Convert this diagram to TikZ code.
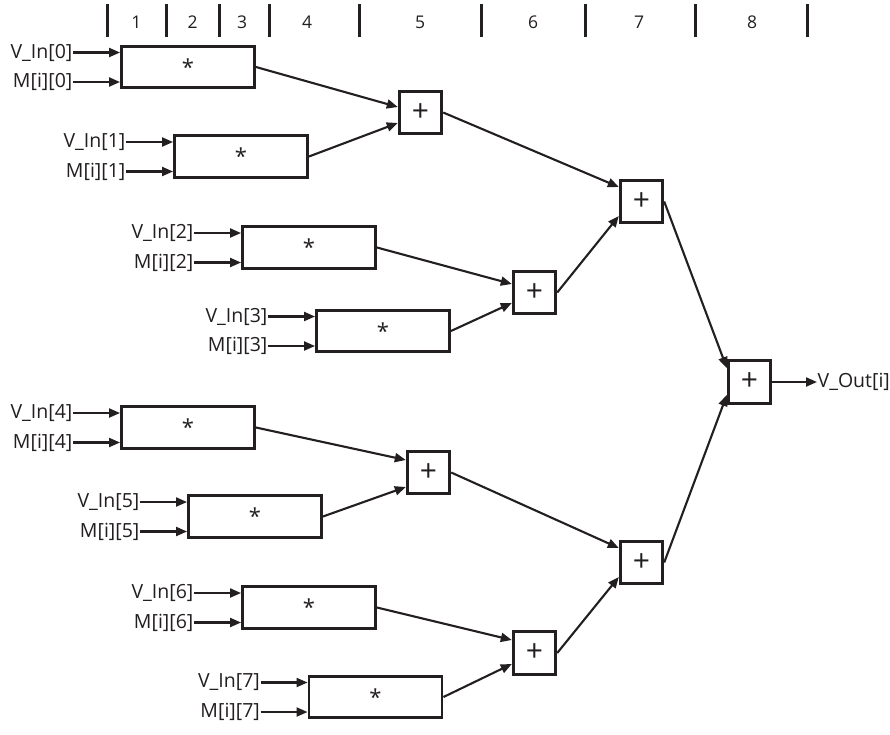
\documentclass[tikz,border=0pt]{standalone}
\usepackage{fontspec}
\setmainfont{Open Sans}
\usetikzlibrary{arrows.meta,calc}
\definecolor{ink}{HTML}{231F20}
\begin{document}
\begin{tikzpicture}[x=1pt,y=-1pt,
  mul/.style={draw=ink,line width=2.9pt,minimum width=133pt,minimum height=41.5pt,inner sep=0pt,
    font=\fontsize{22}{22}\selectfont,text=ink},
  add/.style={draw=ink,line width=2.9pt,minimum width=42.5pt,minimum height=42.5pt,inner sep=0pt,
    font=\fontsize{30}{30}\selectfont,text=ink},
  lbl/.style={inner sep=0.5pt,font=\fontsize{19.5}{20}\selectfont,text=ink},
  hdr/.style={inner sep=0pt,font=\fontsize{17.5}{18}\selectfont,text=ink},
  wire/.style={draw=ink,line width=2.1pt,-{Triangle[length=11pt,width=9pt]}},
  bar/.style={draw=ink,line width=3pt}]

\fill[white] (0,0) rectangle (890,734);
\useasboundingbox (0,0) rectangle (890,734);

% stage ruler
\foreach \x in {107,166,219,269,359,481,585,695,807}
  \draw[bar] (\x,4) -- (\x,37);
\node[hdr] (s1) at (136.5,22) {1};
\node[hdr] (s2) at (192.5,22) {2};
\node[hdr] (s3) at (242,22) {3};
\node[hdr] (s4) at (307,22) {4};
\node[hdr] (s5) at (420,22) {5};
\node[hdr] (s6) at (533,22) {6};
\node[hdr] (s7) at (639,22) {7};
\node[hdr] (s8) at (752,22) {8};

% multipliers
\newcommand{\mulsym}{\raisebox{-0.42em}{*}}
\node[mul] (m0) at (188,67)    {\mulsym};
\node[mul] (m1) at (241,156.5) {\mulsym};
\node[mul] (m2) at (309,247.5) {\mulsym};
\node[mul] (m3) at (383,331)   {\mulsym};
\node[mul] (m4) at (188,427.5) {\mulsym};
\node[mul] (m5) at (255,516.5) {\mulsym};
\node[mul] (m6) at (309,607.5) {\mulsym};
\node[mul] (m7) at (375.5,697) {\mulsym};

% adder tree
\node[add] (a01) at (420.5,112.5) {+};
\node[add] (a23) at (534.5,292.5) {+};
\node[add] (a45) at (428.5,472.5) {+};
\node[add] (a67) at (534.5,653)   {+};
\node[add] (b0)  at (641.5,201.5) {+};
\node[add] (b1)  at (641.5,562.5) {+};
\node[add] (c)   at (749.5,382)   {+};

% operand inputs
\foreach \k in {0,...,7} {
  \node[lbl,anchor=east] (v\k) at ([xshift=-47pt,yshift=14.5pt]m\k.west) {V\_In[\k]};
  \node[lbl,anchor=east] (w\k) at ([xshift=-47pt,yshift=-15pt]m\k.west) {M[i][\k]};
  \draw[wire] (v\k.east) -- (v\k.east -| m\k.west);
  \draw[wire] (w\k.east) -- (w\k.east -| m\k.west);
}

% products into first adder level
\draw[wire] (m0.east) -- ([yshift=5.5pt]a01.west);
\draw[wire] (m1.east) -- ([yshift=-10.5pt]a01.west);
\draw[wire] (m2.east) -- ([yshift=8.5pt]a23.west);
\draw[wire] (m3.east) -- ([yshift=-10.5pt]a23.west);
\draw[wire] (m4.east) -- ([yshift=12.5pt]a45.west);
\draw[wire] (m5.east) -- ([yshift=-14.5pt]a45.west);
\draw[wire] (m6.east) -- ([yshift=13pt]a67.west);
\draw[wire] (m7.east) -- ([yshift=-11pt]a67.west);

% second level
\draw[wire] (a01.east) -- ([yshift=14.5pt]b0.west);
\draw[wire] (a23.east) -- ([yshift=-14.5pt]b0.west);
\draw[wire] (a45.east) -- ([yshift=14.5pt]b1.west);
\draw[wire] (a67.east) -- ([yshift=-14.5pt]b1.west);

% final sum
\draw[wire] (b0.east) -- ([yshift=14pt]c.west);
\draw[wire] (b1.east) -- ([yshift=-13pt]c.west);

\coordinate (outtip) at (817,382);
\draw[wire] (c.east) -- (outtip);
\node[lbl,anchor=west] (vout) at (outtip) {V\_Out[i]};
\end{tikzpicture}
\end{document}
